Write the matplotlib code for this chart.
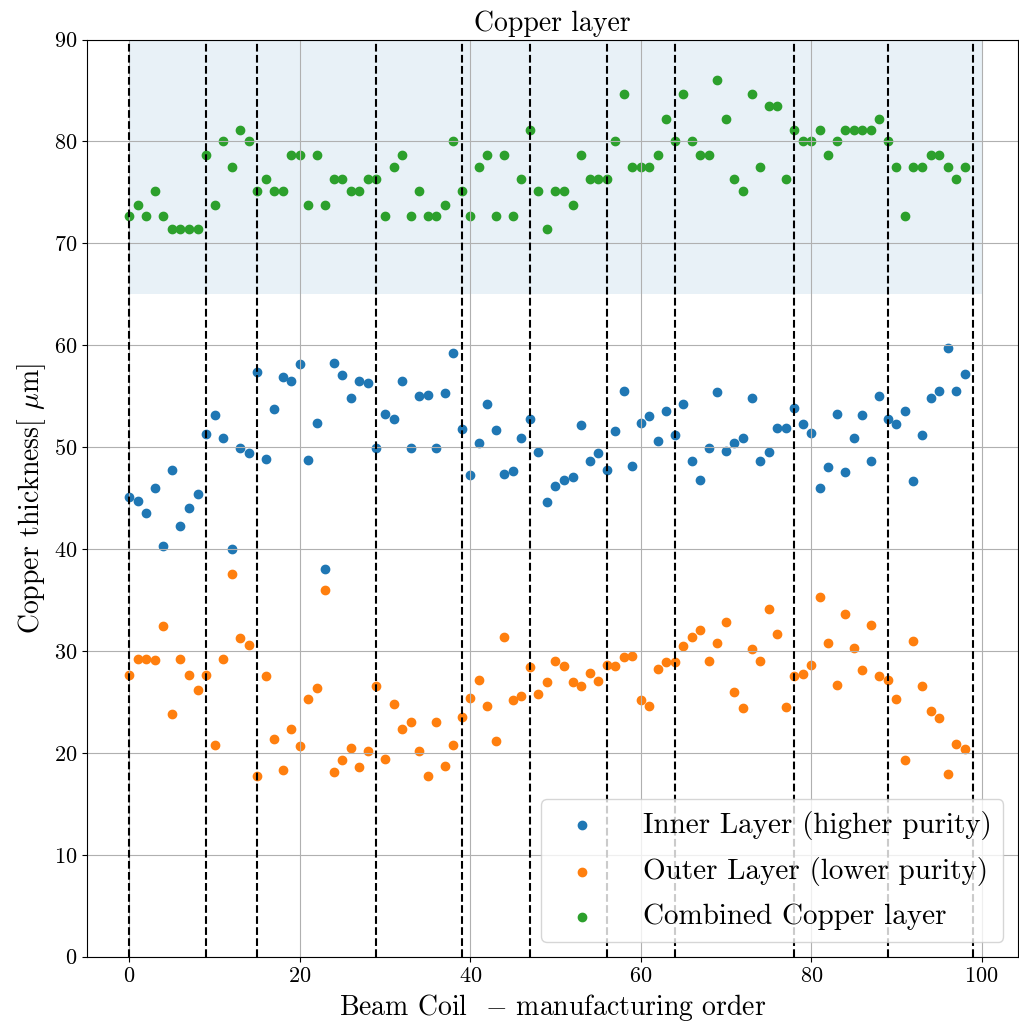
import numpy as np
import matplotlib
matplotlib.use('Agg')
import matplotlib.pyplot as plt

plt.rcParams['font.family'] = 'serif'
plt.rcParams['font.serif'] = ['cmr10', 'DejaVu Serif']
plt.rcParams['mathtext.fontset'] = 'cm'
plt.rcParams['axes.formatter.use_mathtext'] = True

# thickness per coil (um), coil index 0..98
inner = [45.1, 44.7, 43.5, 46.0, 40.3, 47.8, 42.3, 44.0, 45.4, 51.3,
         53.2, 50.9, 40.0, 49.9, 49.4, 57.4, 48.8, 53.7, 56.9, 56.5,
         58.2, 48.7, 52.4, 38.0, 58.3, 57.1, 54.8, 56.5, 56.3, 49.9,
         53.3, 52.8, 56.5, 49.9, 55.0, 55.1, 49.9, 55.3, 59.2, 51.8,
         47.3, 50.4, 54.2, 51.7, 47.4, 47.7, 50.9, 52.8, 49.5, 44.6,
         46.2, 46.8, 47.1, 52.2, 48.6, 49.4, 47.8, 51.6, 55.5, 48.2,
         52.4, 53.1, 50.6, 53.6, 51.2, 54.2, 48.6, 46.8, 49.9, 55.4,
         49.6, 50.4, 50.9, 54.8, 48.6, 49.5, 51.9, 51.9, 53.8, 52.3,
         51.4, 46.0, 48.1, 53.3, 47.6, 50.9, 53.2, 48.6, 55.0, 52.8,
         52.3, 53.6, 46.7, 51.2, 54.8, 55.5, 59.7, 55.5, 57.2]

outer = [27.6, 29.2, 29.2, 29.1, 32.5, 23.8, 29.2, 27.6, 26.2, 27.6,
         20.8, 29.2, 37.6, 31.3, 30.6, 17.7, 27.5, 21.4, 18.3, 22.3,
         20.7, 25.3, 26.4, 36.0, 18.1, 19.3, 20.5, 18.6, 20.2, 26.6,
         19.4, 24.8, 22.3, 23.0, 20.2, 17.7, 23.0, 18.7, 20.8, 23.5,
         25.4, 27.2, 24.6, 21.2, 31.4, 25.2, 25.6, 28.4, 25.8, 27.0,
         29.0, 28.5, 27.0, 26.6, 27.8, 27.1, 28.6, 28.5, 29.4, 29.5,
         25.2, 24.6, 28.2, 28.9, 28.9, 30.5, 31.4, 32.1, 29.0, 30.8,
         32.8, 26.0, 24.4, 30.2, 29.0, 34.1, 31.7, 24.5, 27.5, 27.7,
         28.6, 35.3, 30.8, 26.7, 33.6, 30.3, 28.1, 32.6, 27.5, 27.2,
         25.3, 19.3, 31.0, 26.6, 24.1, 23.4, 17.9, 20.9, 20.4]

combined = [72.7, 73.8, 72.7, 75.1, 72.7, 71.4, 71.4, 71.4, 71.4, 78.7,
            73.8, 80.0, 77.5, 81.1, 80.0, 75.1, 76.3, 75.1, 75.1, 78.7,
            78.7, 73.8, 78.7, 73.8, 76.3, 76.3, 75.1, 75.1, 76.3, 76.3,
            72.7, 77.5, 78.7, 72.7, 75.1, 72.7, 72.7, 73.8, 80.0, 75.1,
            72.7, 77.5, 78.7, 72.7, 78.7, 72.7, 76.3, 81.1, 75.1, 71.4,
            75.1, 75.1, 73.8, 78.7, 76.3, 76.3, 76.3, 80.0, 84.7, 77.5,
            77.5, 77.5, 78.7, 82.2, 80.0, 84.7, 80.0, 78.7, 78.7, 86.0,
            82.2, 76.3, 75.1, 84.7, 77.5, 83.5, 83.5, 76.3, 81.1, 80.0,
            80.0, 81.1, 78.7, 80.0, 81.1, 81.1, 81.1, 81.1, 82.2, 80.0,
            77.5, 72.7, 77.5, 77.5, 78.7, 78.7, 77.5, 76.3, 77.5]

batch_edges = [0, 9, 15, 29, 39, 47, 56, 64, 78, 89, 99]
band_x = [0, 100]
band_y = (65, 90)

coil = np.arange(len(inner))

fig = plt.figure(figsize=(10.2, 10.23), dpi=100)
ax = fig.add_axes([0.085, 0.0648, 0.913, 0.8965])

# shaded band behind the combined layer values
ax.fill_between(band_x, band_y[0], band_y[1], color='tab:blue', alpha=0.1, linewidth=0)

ax.scatter(coil, inner, label='Inner Layer (higher purity)')
ax.scatter(coil, outer, label='Outer Layer (lower purity)')
ax.scatter(coil, combined, label='Combined Copper layer')

for xe in batch_edges:
    ax.axvline(xe, color='black', linestyle='--', linewidth=1.5)

ax.grid(True)
ax.set_xlim(-5, 104.26)
ax.set_ylim(0, 90)
ax.tick_params(labelsize=16)
ax.set_title('Copper layer', fontsize=20)
ax.set_xlabel(r'Beam Coil  $-$ manufacturing order', fontsize=20)
ax.set_ylabel(r'Copper thickness[ $\mu$m]', fontsize=20)
ax.legend(loc='lower right', fontsize=21, handletextpad=1.1, labelspacing=0.6)

fig.savefig('out.png', dpi=100)
